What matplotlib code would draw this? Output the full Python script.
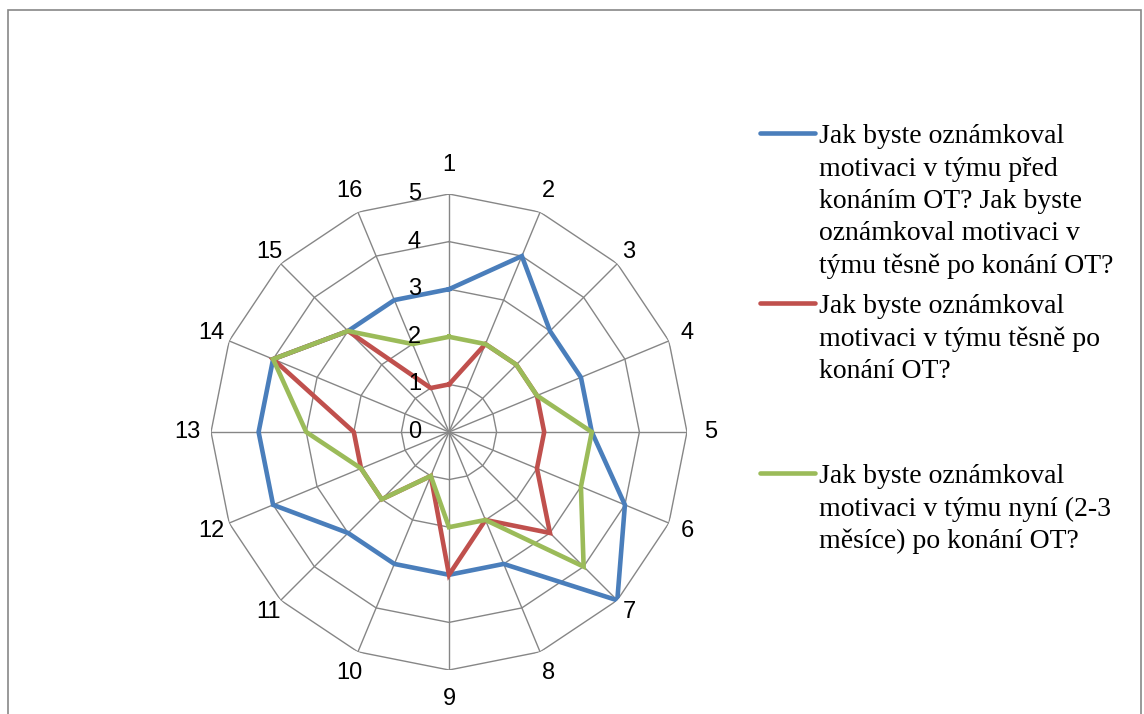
"""
Radar chart: team motivation before / right after / now after OT.
"""
import numpy as np
from matplotlib import pyplot as plt
from matplotlib.lines import Line2D
from matplotlib.patches import Rectangle

categories = [str(i) for i in range(1, 17)]
ring_values = [0, 1, 2, 3, 4, 5]

before = [3, 4, 3, 3, 3, 4, 5, 3, 3, 3, 3, 4, 4, 4, 3, 3]
right_after = [1, 2, 2, 2, 2, 2, 3, 2, 3, 1, 2, 2, 2, 4, 3, 1]
now = [2, 2, 2, 2, 3, 3, 4, 2, 2, 1, 2, 2, 3, 4, 3, 2]

series_labels = [
    ["Jak byste oznámkoval", "motivaci v týmu před", "konáním OT? Jak byste",
     "oznámkoval motivaci v", "týmu těsně po konání OT?"],
    ["Jak byste oznámkoval", "motivaci v týmu těsně po", "konání OT?"],
    ["Jak byste oznámkoval", "motivaci v týmu nyní (2-3", "měsíce) po konání OT?"],
]
colours = ["#4A7EBB", "#C0504D", "#9BBB59"]

W, H = 1144, 714
fig = plt.figure(figsize=(W / 100, H / 100), dpi=100)

# Outer frame of the chart area
fig.add_artist(Rectangle((8 / W, -0.05), (1141 - 8) / W, 1.05 - 10 / H, transform=fig.transFigure,
                         fill=False, edgecolor="#878787", linewidth=1.2))

# Polar axes centred at (449, 432) px with radius 238 px
cx, cy, rad = 449, 432, 238
ax = fig.add_axes([(cx - rad) / W, (H - cy - rad) / H, 2 * rad / W, 2 * rad / H], projection="polar")
ax.set_theta_zero_location("N")
ax.set_theta_direction(-1)
ax.set_ylim(0, 5)
ax.grid(False)
ax.spines["polar"].set_visible(False)
ax.set_xticks([])
ax.set_yticks([])
ax.patch.set_alpha(0)

n = len(categories)
angles = np.arange(n) * 2 * np.pi / n
closed = np.append(angles, angles[0])

grid_col = "#868686"
for r in ring_values[1:]:
    ax.plot(closed, [r] * (n + 1), color=grid_col, lw=1.0, zorder=1)
for a in angles:
    ax.plot([a, a], [0, ring_values[-1]], color=grid_col, lw=1.0, zorder=1)

for vals, col in zip([before, right_after, now], colours):
    ax.plot(closed, vals + vals[:1], color=col, lw=3.3, zorder=3, solid_joinstyle="miter")

# Radial value labels along the first spoke
for r in ring_values:
    ax.annotate(str(r), (0, r), xytext=(-28, 0), textcoords="offset pixels", ha="right", va="center",
                fontsize=17, family="Liberation Sans", zorder=4)

# Category labels
for a, lab in zip(angles, categories):
    rr = 5.3 + 0.2 * np.cos(2 * a) ** 2 + 0.1 * np.cos(a) ** 2
    ax.text(a, rr, lab, ha="center", va="center", fontsize=17, family="Liberation Sans")

# Legend drawn by hand so the sample sits on the first text line
legend_y = [133, 303, 473]
for lines, col, y0 in zip(series_labels, colours, legend_y):
    fig.add_artist(Line2D([760 / W, 815 / W], [1 - y0 / H] * 2, color=col, lw=3.3,
                          solid_capstyle="round", transform=fig.transFigure))
    for i, txt in enumerate(lines):
        fig.text(819 / W, 1 - (y0 + 10 + i * 32.5) / H, txt, ha="left", va="baseline",
                 fontsize=20, family="Liberation Serif")

fig.savefig("out.png", dpi=100)
